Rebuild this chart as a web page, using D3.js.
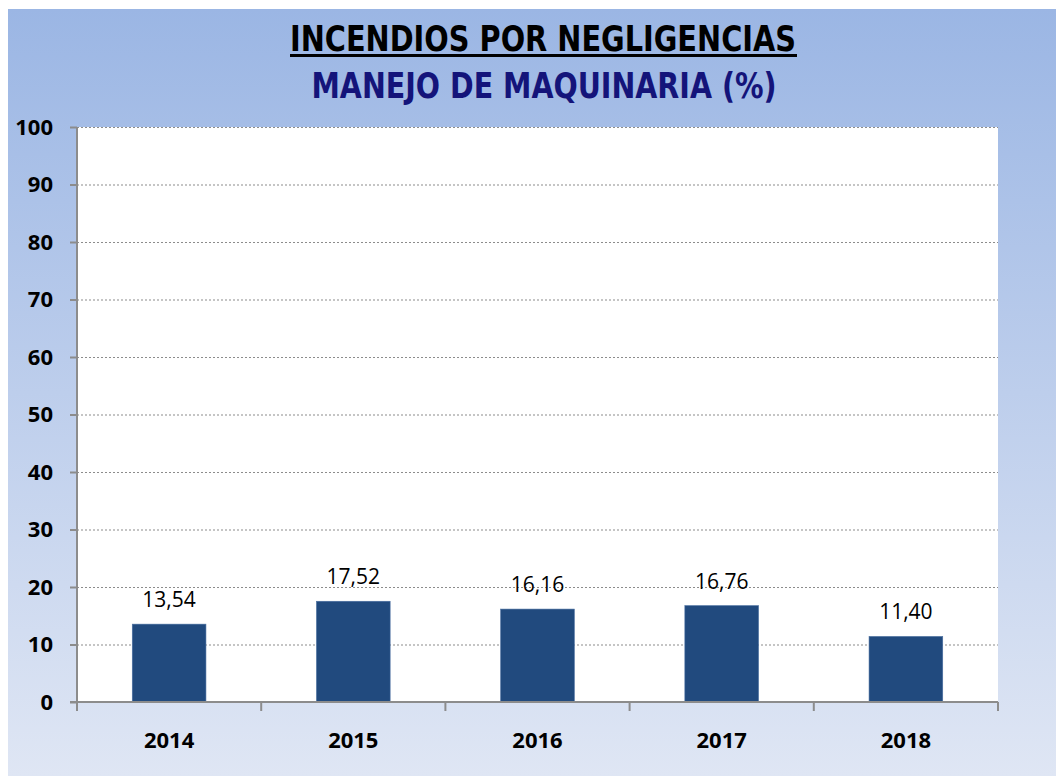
<!DOCTYPE html>
<html>
<head>
<meta charset="utf-8">
<script src="https://cdn.jsdelivr.net/npm/d3@7"></script>
<style>
body{margin:0;background:#fff;}
</style>
</head>
<body>
<script>
// data
var years = ["2014","2015","2016","2017","2018"];
var values = [13.54, 17.52, 16.16, 16.76, 11.40];
var yTicks = [0,10,20,30,40,50,60,70,80,90,100];
var title1 = "INCENDIOS POR NEGLIGENCIAS";
var title2 = "MANEJO DE MAQUINARIA (%)";

var svgwidth = 1056, svgheight = 776;
var margin = {top:127, right:58, bottom:74, left:77};
var width = svgwidth - margin.left - margin.right;
var plotH = 702 - margin.top;

var svg = d3.select("body").append("svg")
	.attr("width", svgwidth)
	.attr("height", svgheight);

var defs = svg.append("defs");
var grad = defs.append("linearGradient").attr("id","bg")
	.attr("x1",0).attr("y1",0).attr("x2",0).attr("y2",1);
grad.append("stop").attr("offset","0%").attr("stop-color","#9bb6e4");
grad.append("stop").attr("offset","100%").attr("stop-color","#dfe6f4");

svg.append("rect")
	.attr("x",8).attr("y",9)
	.attr("width",svgwidth-8).attr("height",svgheight-9)
	.attr("fill","url(#bg)");

// titles
var tfont = "'Liberation Sans Narrow','DejaVu Sans Condensed','Arial Narrow',sans-serif";
svg.append("text")
	.attr("x",543).attr("y",51)
	.attr("text-anchor","middle")
	.attr("font-family",tfont).attr("font-weight","bold").attr("font-size",36)
	.attr("textLength",506).attr("lengthAdjust","spacingAndGlyphs")
	.attr("fill","#000")
	.text(title1);
svg.append("rect")
	.attr("x",290).attr("y",54).attr("width",507).attr("height",3)
	.attr("fill","#000");
svg.append("text")
	.attr("x",544).attr("y",98)
	.attr("text-anchor","middle")
	.attr("font-family",tfont).attr("font-weight","bold").attr("font-size",35)
	.attr("textLength",465).attr("lengthAdjust","spacingAndGlyphs")
	.attr("fill","#14147a")
	.text(title2);

var g = svg.append("g")
	.attr("transform","translate("+margin.left+","+margin.top+")");

var x = d3.scaleBand().domain(years).range([0,width])
	.paddingInner(0.6).paddingOuter(0.3);
var y = d3.scaleLinear().domain([0,100]).range([plotH,0]);

g.append("rect")
	.attr("width",width).attr("height",plotH)
	.attr("fill","#fff");

// gridlines
g.selectAll(".grid").data(yTicks.filter(function(d){return d>0;}))
	.enter().append("line")
	.attr("x1",0).attr("x2",width)
	.attr("y1",function(d){return y(d)+0.5;})
	.attr("y2",function(d){return y(d)+0.5;})
	.attr("stroke","#8c8c8c").attr("stroke-width",1.2)
	.attr("stroke-dasharray","2,2");

// bars
g.selectAll(".bar").data(values)
	.enter().append("rect")
	.attr("x",function(d,i){return x(years[i]);})
	.attr("y",function(d){return y(d);})
	.attr("width",x.bandwidth())
	.attr("height",function(d){return plotH-y(d);})
	.attr("fill","#214a7e")
	.attr("stroke","#4a6fa0").attr("stroke-width",0.6);

// value labels
g.selectAll(".lbl").data(values)
	.enter().append("text")
	.attr("x",function(d,i){return x(years[i])+x.bandwidth()/2;})
	.attr("y",function(d){return y(d)-17;})
	.attr("text-anchor","middle")
	.attr("font-family","'Open Sans','DejaVu Sans',sans-serif")
	.attr("font-size",21)
	.attr("fill","#000")
	.text(function(d){return d.toFixed(2).replace(".",",");});

// y axis
var yAxis = d3.axisLeft(y).tickValues(yTicks).tickSize(7).tickPadding(17);
var ya = g.append("g").call(yAxis);
ya.select(".domain").attr("stroke","#8c8c8c").attr("stroke-width",2)
	.attr("d","M0,0V"+plotH);
ya.selectAll(".tick line").attr("stroke","#8c8c8c").attr("stroke-width",2);
ya.selectAll(".tick text")
	.attr("font-family","'Open Sans','DejaVu Sans',sans-serif")
	.attr("font-weight","bold").attr("font-size",22).attr("fill","#000");

// x axis
var xa = g.append("g").attr("transform","translate(0,"+plotH+")");
xa.append("line").attr("x1",-7).attr("x2",width)
	.attr("stroke","#8c8c8c").attr("stroke-width",2);
var step = x.step();
xa.selectAll(".xt").data(d3.range(years.length+1))
	.enter().append("line")
	.attr("x1",function(d){return d*step;})
	.attr("x2",function(d){return d*step;})
	.attr("y1",0).attr("y2",9)
	.attr("stroke","#8c8c8c").attr("stroke-width",2);
xa.selectAll(".xl").data(years)
	.enter().append("text")
	.attr("x",function(d){return x(d)+x.bandwidth()/2;})
	.attr("y",46)
	.attr("text-anchor","middle")
	.attr("font-family","'Open Sans','DejaVu Sans',sans-serif")
	.attr("font-weight","bold").attr("font-size",22).attr("fill","#000")
	.text(function(d){return d;});
</script>
</body>
</html>
